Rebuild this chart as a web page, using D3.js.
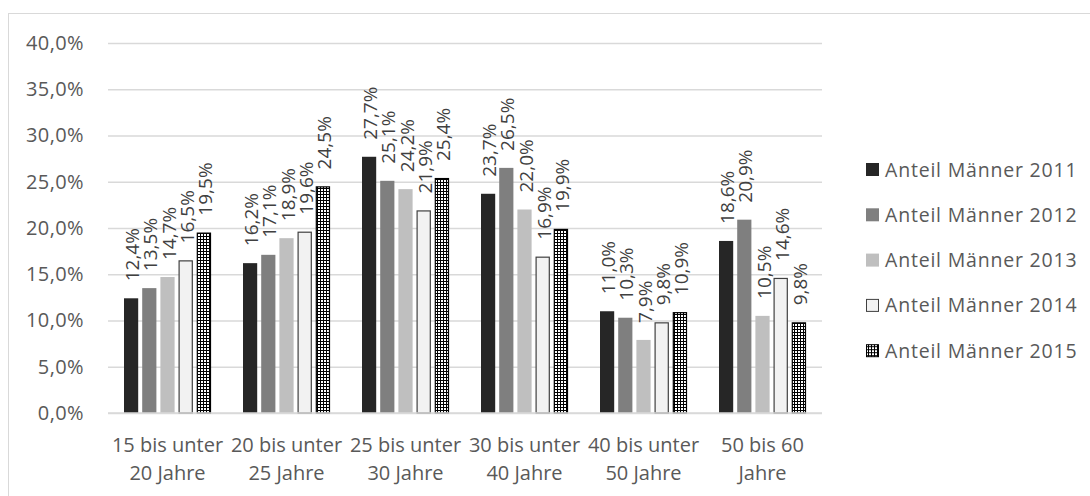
<!DOCTYPE html>
<html><head><meta charset="utf-8">
<script src="https://cdn.jsdelivr.net/npm/d3@7"></script>
<style>body{margin:0;background:#fff}svg{display:block}</style>
</head><body>
<svg id="c" width="1090" height="496"></svg>
<script>
const categories = [["15 bis unter","20 Jahre"],["20 bis unter","25 Jahre"],["25 bis unter","30 Jahre"],["30 bis unter","40 Jahre"],["40 bis unter","50 Jahre"],["50 bis 60","Jahre"]];
const seriesNames = ["Anteil Männer 2011","Anteil Männer 2012","Anteil Männer 2013","Anteil Männer 2014","Anteil Männer 2015"];
const v2011 = [12.4,16.2,27.7,23.7,11.0,18.6];
const v2012 = [13.5,17.1,25.1,26.5,10.3,20.9];
const v2013 = [14.7,18.9,24.2,22.0,7.9,10.5];
const v2014 = [16.5,19.6,21.9,16.9,9.8,14.6];
const v2015 = [19.5,24.5,25.4,19.9,10.9,9.8];
const yTicks = [0,5,10,15,20,25,30,35,40];

const series = [v2011,v2012,v2013,v2014,v2015];
const fills = ["#262626","#7f7f7f","#bfbfbf","#f2f2f2","url(#dots)"];
const strokes = [null,null,null,"#404040","#000"];
const fmt = v => d3.format(".1f")(v).replace(".", ",") + "%";
const font = "'Open Sans', 'Noto Sans', sans-serif";

const svg = d3.select("#c");
const defs = svg.append("defs");
const pat = defs.append("pattern").attr("id","dots").attr("patternUnits","userSpaceOnUse").attr("width",3).attr("height",3);
pat.append("rect").attr("width",3).attr("height",3).attr("fill","#000");
pat.append("rect").attr("width",2).attr("height",2).attr("fill","#fff");

svg.append("rect").attr("x",8.5).attr("y",13.5).attr("width",1200).attr("height",600).attr("fill","#fff").attr("stroke","#d9d9d9");

const x0 = 108, x1 = 822, yTop = 43, yBot = 413;
const y = d3.scaleLinear().domain([0,40]).range([yBot,yTop]);
const xb = d3.scaleBand().domain(d3.range(categories.length)).range([x0,x1]).paddingInner(0).paddingOuter(0);
const xs = d3.scaleBand().domain(d3.range(series.length)).range([16, xb.bandwidth()-16]).paddingInner(0.22).paddingOuter(0);

// grid
const yAxis = d3.axisLeft(y).tickValues(yTicks).tickSize(-(x1-x0)).tickFormat(fmt).tickPadding(24);
const ga = svg.append("g").attr("transform",`translate(${x0},0)`).call(yAxis);
ga.select(".domain").remove();
ga.selectAll(".tick line").attr("stroke","#d9d9d9").attr("stroke-width",1.3);
ga.selectAll(".tick text").attr("fill","#595959").style("font-family",font).style("font-size","20px").style("letter-spacing","0.4px");

// bars
series.forEach((s,si)=>{
  svg.append("g").selectAll("rect").data(s).join("rect")
    .attr("x",(d,i)=>xb(i)+xs(si)+(strokes[si]?0.5:0))
    .attr("y",d=>y(d)+(strokes[si]?0.5:0))
    .attr("width",xs.bandwidth()-(strokes[si]?1:0))
    .attr("height",d=>yBot-y(d)-(strokes[si]?0.5:0))
    .attr("fill",fills[si])
    .attr("stroke",strokes[si]||"none").attr("stroke-width",1.2);
  svg.append("g").selectAll("text").data(s).join("text")
    .attr("transform",(d,i)=>`translate(${xb(i)+xs(si)+xs.bandwidth()+1},${y(d)-17}) rotate(-90)`)
    .attr("fill","#404040").style("font-family",font).style("font-size","19px")
    .text(d=>fmt(d));
});

// baseline
svg.append("line").attr("x1",x0).attr("x2",x1).attr("y1",yBot).attr("y2",yBot).attr("stroke","#d9d9d9").attr("stroke-width",1.3);

// category labels
const xAxis = d3.axisBottom(xb).tickSize(0).tickFormat(()=> "");
svg.append("g").attr("transform",`translate(0,${yBot})`).call(xAxis).select(".domain").remove();
const cl = svg.append("g").selectAll("text").data(categories).join("text")
  .attr("x",(d,i)=>xb(i)+xb.bandwidth()/2).attr("y",452)
  .attr("text-anchor","middle").attr("fill","#595959").style("font-family",font).style("font-size","20px");
cl.selectAll("tspan").data(d=>d).join("tspan")
  .attr("x",function(){return this.parentNode.getAttribute("x");})
  .attr("dy",(d,i)=>i?28:0).text(d=>d);

// legend
const lg = svg.append("g").selectAll("g").data(seriesNames).join("g")
  .attr("transform",(d,i)=>`translate(866,${163+i*45.3})`);
lg.append("rect").attr("x",(d,i)=>strokes[i]?0.5:0).attr("y",(d,i)=>strokes[i]?0.5:0)
  .attr("width",(d,i)=>strokes[i]?12:13).attr("height",(d,i)=>strokes[i]?12:13)
  .attr("fill",(d,i)=>fills[i]).attr("stroke",(d,i)=>strokes[i]||"none");
lg.append("text").attr("x",19).attr("y",13.5).attr("fill","#595959")
  .style("font-family",font).style("font-size","19.5px").style("letter-spacing","0.8px").text(d=>d);
</script>
</body></html>
